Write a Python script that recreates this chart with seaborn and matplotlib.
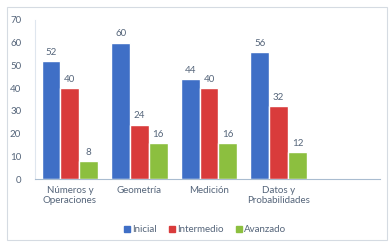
import matplotlib
matplotlib.use('Agg')
import matplotlib.pyplot as plt
import matplotlib.patches as mpatches
import pandas as pd
import seaborn as sns

categorias = ["Números y\nOperaciones", "Geometría", "Medición", "Datos y\nProbabilidades"]
niveles = ["Inicial", "Intermedio", "Avanzado"]
inicial = [52, 60, 44, 56]
intermedio = [40, 24, 40, 32]
avanzado = [8, 16, 16, 12]
yticks = [0, 10, 20, 30, 40, 50, 60, 70]

colores = ['#3F6FC6', '#D93B3B', '#8CBF3F']
txt = '#55657a'

df = pd.DataFrame({
    'categoria': categorias * 3,
    'nivel': [n for n in niveles for _ in categorias],
    'valor': inicial + intermedio + avanzado,
})

sns.set_style('white')
plt.rcParams['font.family'] = ['Lato', 'DejaVu Sans']

fig = plt.figure(figsize=(3.9, 2.43), dpi=100)
ax = fig.add_axes([0.09, 0.263, 0.885, 0.655])

sns.barplot(data=df, x='categoria', y='valor', hue='nivel', order=categorias,
            hue_order=niveles, palette=colores, width=0.81, gap=0,
            saturation=1, ax=ax, legend=False)

for cont in ax.containers:
    ax.bar_label(cont, padding=3, fontsize=7, color=txt)

ax.set_ylim(0, 70)
ax.set_yticks(yticks)
ax.set_xlim(-0.5, 4.46)
ax.set_xlabel('')
ax.set_ylabel('')
ax.tick_params(axis='both', length=0, labelsize=7, colors=txt, pad=5)
ax.tick_params(axis='y', pad=10)
for s in ['top', 'right']:
    ax.spines[s].set_visible(False)
ax.spines['left'].set_color('#dfe6ee')
ax.spines['bottom'].set_color('#a9bcd0')
ax.spines['left'].set_linewidth(0.8)
ax.spines['bottom'].set_linewidth(0.8)

handles = [mpatches.Patch(color=c, label=n) for c, n in zip(colores, niveles)]
fig.legend(handles=handles, loc='center', bbox_to_anchor=(0.526, 0.055), ncol=3,
           frameon=False, fontsize=7, handlelength=0.6, handleheight=0.6,
           handletextpad=0.3, columnspacing=1.2, labelcolor=txt)

fig.patches.append(mpatches.Rectangle((0.018, 0.012), 0.975, 0.958, transform=fig.transFigure,
                                      fill=False, edgecolor='#d5dbe2', linewidth=0.8))

fig.savefig('out.png', dpi=100)
